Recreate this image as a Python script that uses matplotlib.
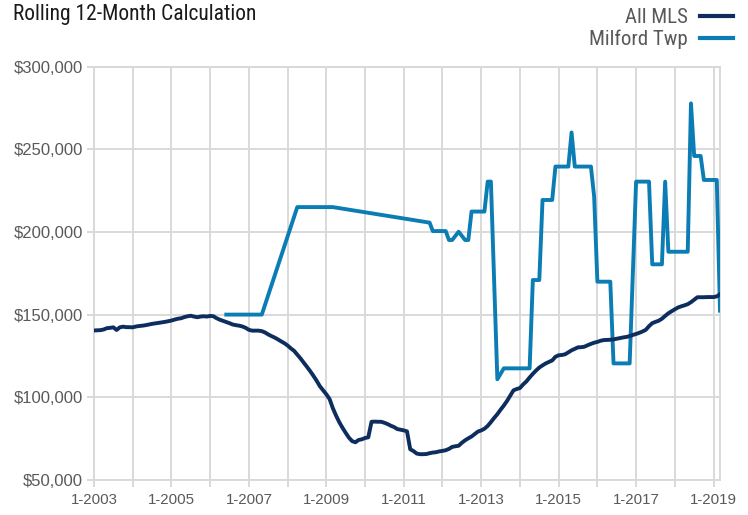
import matplotlib
matplotlib.use('Agg')
import matplotlib.pyplot as plt
import numpy as np
from matplotlib.ticker import FuncFormatter
from matplotlib.lines import Line2D

# ---------------- data ----------------
title = 'Rolling 12-Month Calculation'
series_names = ['All MLS', 'Milford Twp']
start_year = 2003  # first month = January 2003, monthly values

all_mls = [
    140400, 140500, 140600, 141000, 141800, 142000, 142300, 140700, 142300, 142700, 142400, 142400,  # 2003
    142300, 142800, 143100, 143300, 143600, 144000, 144400, 144700, 145000, 145300, 145600, 146000,  # 2004
    146400, 147000, 147500, 147800, 148500, 149000, 149300, 148800, 148400, 148800, 149000, 148800,  # 2005
    149200, 149000, 147800, 146900, 146200, 145500, 144800, 144000, 143600, 143300, 142800, 142000,  # 2006
    140800, 140300, 140300, 140300, 140000, 139200, 138000, 137000, 136100, 135000, 133800, 132700,  # 2007
    131300, 129600, 128100, 125800, 123500, 121000, 118400, 115800, 113000, 110000, 106700, 104300,  # 2008
    101800, 99000, 93500, 89000, 85000, 81600, 78500, 75600, 73500, 72800, 74200, 74600,              # 2009
    75400, 75800, 85200, 85300, 85200, 85200, 84600, 83800, 82800, 82000, 80800, 80400,               # 2010
    80000, 79400, 68600, 67500, 66000, 65600, 65600, 65700, 66200, 66600, 66800, 67300,               # 2011
    67600, 68000, 68800, 70000, 70400, 70700, 72500, 74000, 75200, 76300, 77800, 79300,               # 2012
    80000, 81000, 82700, 85000, 87500, 89800, 92500, 95000, 97800, 101000, 104200, 105000,            # 2013
    105600, 107800, 109600, 112000, 114200, 116200, 118000, 119300, 120500, 121400, 122300, 124500,  # 2014
    125400, 125600, 126000, 127200, 128400, 129300, 130200, 130300, 130600, 131500, 132300, 133000,  # 2015
    133500, 134200, 134600, 134700, 134800, 135000, 135400, 135800, 136200, 136500, 137000, 137700,  # 2016
    138300, 139000, 139800, 140800, 143000, 144800, 145600, 146300, 147500, 149200, 150800, 152000,  # 2017
    153200, 154300, 155000, 155600, 156300, 157500, 159000, 160500, 160500, 160500, 160600, 160600,  # 2018
    160600, 161000, 162300,                                                                          # 2019
]

N = None
milford = [
    N, N, N, N, N, N, N, N, N, N, N, N,                                                               # 2003
    N, N, N, N, N, N, N, N, N, N, N, N,                                                               # 2004
    N, N, N, N, N, N, N, N, N, N, N, N,                                                               # 2005
    N, N, N, N, N, 150000, 150000, 150000, 150000, 150000, 150000, 150000,                            # 2006
    150000, 150000, 150000, 150000, 150000, N, N, N, N, N, N, N,                                      # 2007
    N, N, N, 215000, 215000, 215000, 215000, 215000, 215000, 215000, 215000, 215000,                  # 2008
    215000, 215000, 215000, N, N, N, N, N, N, N, N, N,                                                # 2009
    N, N, N, N, N, N, N, N, N, N, N, N,                                                               # 2010
    N, N, N, N, N, N, N, N, 205600, 200500, 200500, 200500,                                           # 2011
    200500, 200500, 195100, 195100, N, 200100, N, 195100, 195100, 212300, 212300, 212300,             # 2012
    212300, 212300, 230400, 230400, N, 110900, N, 117500, 117500, 117500, 117500, 117500,             # 2013
    117500, 117500, 117500, 117500, 170900, 170900, 170900, 219300, 219300, 219300, 219300, 239500,   # 2014
    239500, 239500, 239500, 239500, 260100, 239500, 239500, 239500, 239500, 239500, 239500, 221300,   # 2015
    169900, 169900, 169900, 169900, 169900, 120500, 120500, 120500, 120500, 120500, 120500, N,        # 2016
    230400, 230400, 230400, 230400, 230400, 180400, 180400, 180400, 180400, 230400, 188000, 188000,   # 2017
    188000, 188000, 188000, 188000, 188000, 277700, 245900, 245900, 245900, 231400, 231400, 231400,   # 2018
    231400, 231400, 152400,                                                                          # 2019
]

# ---------------- style ----------------
plt.rcParams['font.family'] = ['Liberation Sans', 'DejaVu Sans']
cond = ['Roboto Condensed', 'Liberation Sans', 'DejaVu Sans']

navy = '#0c2d5e'
blue = '#0b7db4'
grid_c = '#d9d9d9'
label_c = '#595959'

W, H = 748, 515
fig = plt.figure(figsize=(W / 100, H / 100), dpi=100)
left_px, right_px, top_px, bottom_px = 94, 720, 66.5, 480
ax = fig.add_axes([left_px / W, 1 - bottom_px / H,
                   (right_px - left_px) / W, (bottom_px - top_px) / H])

x = np.arange(len(all_mls))
mx = [i for i, v in enumerate(milford) if v is not None]
my = [v for v in milford if v is not None]

ax.plot(mx, my, color=blue, lw=2.8, zorder=3, solid_joinstyle='round')
ax.plot(x, all_mls, color=navy, lw=2.8, zorder=4, solid_joinstyle='round')

ax.set_xlim(0, len(all_mls) - 1)
ax.set_ylim(50000, 300000)
year_ticks = np.arange(0, len(all_mls), 12)
ax.set_xticks(year_ticks)
ax.set_xticklabels([f'1-{start_year + i}' if i % 2 == 0 else '' for i in range(len(year_ticks))])
ax.set_yticks(np.arange(50000, 300001, 50000))
ax.yaxis.set_major_formatter(FuncFormatter(lambda v, p: f'${v:,.0f}'))

ax.grid(True, color=grid_c, lw=1.4, zorder=0)
ax.set_axisbelow(True)
for s in ax.spines.values():
    s.set_color(grid_c)
    s.set_linewidth(1.4)
ax.tick_params(axis='both', length=5, width=1.4, color=grid_c, labelcolor=label_c)
ax.tick_params(axis='y', pad=3, labelsize=12)
ax.tick_params(axis='x', pad=4, labelsize=10.8)

fig.text(13 / W, 1 - 20 / H, title, fontsize=15.5, color='#1a1a1a',
         ha='left', va='baseline', family=cond)

handles = [Line2D([], [], color=navy, lw=3), Line2D([], [], color=blue, lw=3)]
leg = fig.legend(handles, series_names, loc='upper right',
                 bbox_to_anchor=(733 / W, 1 - 8 / H), bbox_transform=fig.transFigure,
                 frameon=False, markerfirst=False,
                 prop={'family': cond, 'size': 15},
                 handlelength=1.6, handletextpad=0.55, labelspacing=0.14,
                 borderpad=0, borderaxespad=0)
for t in leg.get_texts():
    t.set_color(label_c)

fig.savefig('out.png', dpi=100)
